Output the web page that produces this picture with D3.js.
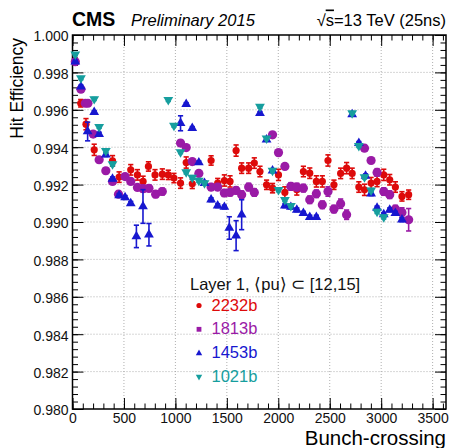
<!DOCTYPE html>
<html>
<head>
    <meta charset="utf-8">
    <title>Hit efficiency vs bunch crossing</title>
    <script src="https://d3js.org/d3.v7.min.js"></script>
    <style type="text/css">
        body { margin: 0; background: #fff; }
        text { font-family: "Liberation Sans", Arial, Helvetica, sans-serif; }
    </style>
</head>
<body>
<script type="text/javascript">
    // 2232b
    let bx2232 = [80, 131, 211, 389, 453, 566, 631, 686, 738, 802, 873, 931, 986, 1050, 1105, 1164,
        1347, 1411, 1476, 1531, 1590, 1644, 1712, 1767, 1822, 1886, 1944, 2002, 2064, 2180, 2244, 2306,
        2370, 2428, 2483, 2541, 2606, 2664, 2718, 2783, 2838, 2902, 2960, 3025, 3083, 3138, 3202, 3267];
    let eff2232 = [0.99635, 0.99523, 0.99386, 0.99327, 0.99240, 0.99279, 0.99252, 0.99217, 0.99297, 0.99252,
        0.99256, 0.99252, 0.99235, 0.99208, 0.99318, 0.99204, 0.99329, 0.99208, 0.99222, 0.99217, 0.99382,
        0.99288, 0.99288, 0.99315, 0.99270, 0.99199, 0.99181, 0.99252, 0.99158, 0.99172, 0.99270, 0.99261,
        0.99217, 0.99217, 0.99329, 0.99199, 0.99260, 0.99288, 0.99260, 0.99187, 0.99172, 0.99208, 0.99217,
        0.99252, 0.99226, 0.99187, 0.99137, 0.99146];
    let err2232 = [0.00020, 0.00030, 0.00030, 0.00028, 0.00028, 0.00028, 0.00028, 0.00028, 0.00025, 0.00028,
        0.00028, 0.00025, 0.00025, 0.00028, 0.00030, 0.00025, 0.00025, 0.00025, 0.00030, 0.00030, 0.00030,
        0.00028, 0.00028, 0.00028, 0.00028, 0.00025, 0.00025, 0.00030, 0.00030, 0.00028, 0.00028, 0.00028,
        0.00030, 0.00030, 0.00030, 0.00025, 0.00028, 0.00030, 0.00028, 0.00028, 0.00030, 0.00030, 0.00028,
        0.00030, 0.00028, 0.00028, 0.00025, 0.00025];

    // 1813b
    let bx1813 = [27, 82, 125, 150, 201, 259, 324, 389, 447, 511, 566, 631, 686, 743, 808, 873, 1050, 1105,
        1164, 1228, 1347, 1411, 1476, 1531, 1590, 1644, 1712, 1767, 1944, 2002, 2064, 2122, 2180, 2244,
        2306, 2370, 2428, 2483, 2541, 2606, 2664, 2838, 2902, 2960, 3025, 3083, 3138, 3202, 3267];
    let eff1813 = [0.99857, 0.99710, 0.99635, 0.99635, 0.99470, 0.99333, 0.99274, 0.99217, 0.99149, 0.99243,
        0.99217, 0.99185, 0.99178, 0.99180, 0.99149, 0.99163, 0.99422, 0.99398, 0.99323, 0.99260, 0.99187,
        0.99187, 0.99155, 0.99158, 0.99169, 0.99146, 0.99187, 0.99158, 0.99466, 0.99371, 0.99297, 0.99190,
        0.99187, 0.99181, 0.99119, 0.99151, 0.99092, 0.99163, 0.99069, 0.99098, 0.99039, 0.99395, 0.99329,
        0.99265, 0.99163, 0.99146, 0.99069, 0.99051, 0.99012];
    let err1813 = [0.00010, 0.00010, 0.00010, 0.00010, 0.00012, 0.00015, 0.00015, 0.00015, 0.00015, 0.00015,
        0.00015, 0.00015, 0.00018, 0.00018, 0.00018, 0.00018, 0.00015, 0.00015, 0.00015, 0.00015, 0.00018,
        0.00018, 0.00018, 0.00018, 0.00018, 0.00020, 0.00020, 0.00020, 0.00015, 0.00015, 0.00015, 0.00020,
        0.00020, 0.00020, 0.00020, 0.00020, 0.00020, 0.00025, 0.00020, 0.00025, 0.00025, 0.00015, 0.00015,
        0.00020, 0.00020, 0.00020, 0.00020, 0.00025, 0.00060];

    // 1453b
    let bx1453 = [27, 82, 147, 211, 259, 324, 389, 453, 511, 566, 621, 685, 743, 1050, 1105, 1164, 1228,
        1283, 1347, 1411, 1476, 1524, 1590, 1644, 1822, 1886, 1944, 2064, 2122, 2180, 2244, 2306, 2370,
        2718, 2783, 2848, 2902, 2960, 3025, 3083, 3138, 3202];
    let eff1453 = [0.99857, 0.99724, 0.99484, 0.99587, 0.99470, 0.99360, 0.99231, 0.99142, 0.99131, 0.99100,
        0.98923, 0.99083, 0.98932, 0.99528, 0.99630, 0.99502, 0.99318, 0.99208, 0.99119, 0.99087, 0.99080,
        0.98968, 0.98927, 0.99039, 0.99582, 0.99440, 0.99275, 0.99087, 0.99080, 0.99065, 0.99047, 0.99026,
        0.99026, 0.99575, 0.99422, 0.99247, 0.99151, 0.99075, 0.99040, 0.99065, 0.99047, 0.99012];
    let err1453 = [0.00008, 0.00008, 0.00050, 0.00008, 0.00010, 0.00010, 0.00010, 0.00010, 0.00010, 0.00010,
        0.00060, 0.00090, 0.00060, 0.00040, 0.00008, 0.00008, 0.00008, 0.00010, 0.00010, 0.00010, 0.00010,
        0.00060, 0.00080, 0.00080, 0.00008, 0.00008, 0.00010, 0.00010, 0.00010, 0.00010, 0.00010, 0.00010,
        0.00010, 0.00008, 0.00008, 0.00010, 0.00010, 0.00010, 0.00010, 0.00010, 0.00010, 0.00010];

    // 1021b
    let bx1021 = [27, 82, 211, 259, 324, 389, 931, 986, 1050, 1105, 1164, 1228, 1283, 1822, 1886, 1944,
        2002, 2064, 2122, 2718, 2783, 2838, 2902, 2960, 3025];
    let eff1021 = [0.99897, 0.99769, 0.99658, 0.99509, 0.99380, 0.99310, 0.99653, 0.99516, 0.99374, 0.99267,
        0.99238, 0.99222, 0.99208, 0.99617, 0.99448, 0.99275, 0.99172, 0.99119, 0.99087, 0.99582, 0.99407,
        0.99240, 0.99169, 0.99056, 0.99026];
    let err1021 = [0.00008, 0.00008, 0.00008, 0.00008, 0.00010, 0.00010, 0.00008, 0.00008, 0.00008, 0.00010,
        0.00010, 0.00010, 0.00010, 0.00008, 0.00008, 0.00010, 0.00010, 0.00010, 0.00010, 0.00008, 0.00008,
        0.00010, 0.00010, 0.00010, 0.00010];

    let seriesNames = ["2232b", "1813b", "1453b", "1021b"];
    let xTicks = [0, 500, 1000, 1500, 2000, 2500, 3000, 3500];
    let yTicks = [0.980, 0.982, 0.984, 0.986, 0.988, 0.990, 0.992, 0.994, 0.996, 0.998, 1.000];

    let series = [
        {name: seriesNames[0], bx: bx2232, eff: eff2232, err: err2232, color: "#dd0a0a", shape: "circle", size: 3.6, legShape: "circle"},
        {name: seriesNames[1], bx: bx1813, eff: eff1813, err: err1813, color: "#9a1aa6", shape: "circle", size: 4.6, legShape: "square"},
        {name: seriesNames[2], bx: bx1453, eff: eff1453, err: err1453, color: "#1717cf", shape: "up", size: 4, legShape: "up"},
        {name: seriesNames[3], bx: bx1021, eff: eff1021, err: err1021, color: "#169e9e", shape: "down", size: 4, legShape: "down"}
    ];

    let W = 450, H = 448;
    let pLeft = 72.5, pRight = 446, pTop = 35, pBottom = 409;

    let svg = d3.select("body").append("svg")
        .attr("width", W)
        .attr("height", H);

    let x = d3.scaleLinear().domain([0, 3630]).range([pLeft, pRight]);
    let y = d3.scaleLinear().domain([0.980, 1.000]).range([pBottom, pTop]);

    // grid
    let grid = svg.append("g").attr("class", "grid")
        .attr("stroke", "#9a9a9a").attr("stroke-width", 0.8).attr("stroke-dasharray", "1,2");
    grid.selectAll(".gx").data(xTicks.filter(d => d > 0))
        .enter().append("line")
        .attr("x1", d => x(d)).attr("x2", d => x(d))
        .attr("y1", pTop).attr("y2", pBottom);
    grid.selectAll(".gy").data(yTicks.filter(d => d > 0.9801 && d < 0.9999))
        .enter().append("line")
        .attr("x1", pLeft).attr("x2", pRight)
        .attr("y1", d => y(d)).attr("y2", d => y(d));

    // axes, ticks pointing inward like ROOT
    let xMinor = d3.range(0, 3601, 100);
    let yMinor = d3.range(0, 51).map(i => 0.980 + i * 0.0004);

    function tickAxis(axis, g) {
        g.call(axis);
        g.select(".domain").remove();
        g.selectAll("line").attr("stroke", "#000").attr("stroke-width", 1);
    }

    tickAxis(d3.axisBottom(x).tickValues(xMinor).tickSize(-5.5).tickFormat(""),
        svg.append("g").attr("transform", `translate(0,${pBottom})`));
    tickAxis(d3.axisTop(x).tickValues(xMinor).tickSize(-5.5).tickFormat(""),
        svg.append("g").attr("transform", `translate(0,${pTop})`));
    tickAxis(d3.axisLeft(y).tickValues(yMinor).tickSize(-5.5).tickFormat(""),
        svg.append("g").attr("transform", `translate(${pLeft},0)`));
    tickAxis(d3.axisRight(y).tickValues(yMinor).tickSize(-5.5).tickFormat(""),
        svg.append("g").attr("transform", `translate(${pRight},0)`));

    let xAxis = svg.append("g").attr("transform", `translate(0,${pBottom})`);
    tickAxis(d3.axisBottom(x).tickValues(xTicks).tickSize(-11).tickPadding(4.5).tickFormat(d3.format("d")), xAxis);
    tickAxis(d3.axisTop(x).tickValues(xTicks).tickSize(-11).tickFormat(""),
        svg.append("g").attr("transform", `translate(0,${pTop})`));
    let yAxis = svg.append("g").attr("transform", `translate(${pLeft},0)`);
    tickAxis(d3.axisLeft(y).tickValues(yTicks).tickSize(-11).tickPadding(4).tickFormat(d3.format(".3f")), yAxis);
    tickAxis(d3.axisRight(y).tickValues(yTicks).tickSize(-11).tickFormat(""),
        svg.append("g").attr("transform", `translate(${pRight},0)`));

    svg.selectAll(".tick text")
        .attr("font-family", "'Liberation Sans', Arial, sans-serif")
        .attr("font-size", 14)
        .attr("fill", "#111");
    yAxis.selectAll(".tick text").attr("dy", "0.42em");

    // frame
    svg.append("rect")
        .attr("x", pLeft).attr("y", pTop)
        .attr("width", pRight - pLeft).attr("height", pBottom - pTop)
        .attr("fill", "none").attr("stroke", "#000").attr("stroke-width", 1.5);

    function markerPath(shape, r) {
        if (shape === "circle") return d3.symbol(d3.symbolCircle, Math.PI * r * r)();
        if (shape === "square") return d3.symbol(d3.symbolSquare, 4 * r * r)();
        return d3.symbol(d3.symbolTriangle, 2.6 * r * r)();
    }

    // data
    series.forEach(s => {
        let pts = s.bx.map((b, i) => ({bx: b, eff: s.eff[i], err: s.err[i]}));
        let g = svg.append("g").attr("class", "series");
        g.selectAll(".eb").data(pts).enter().append("line")
            .attr("x1", d => x(d.bx)).attr("x2", d => x(d.bx))
            .attr("y1", d => y(d.eff - d.err)).attr("y2", d => y(d.eff + d.err))
            .attr("stroke", s.color).attr("stroke-width", 1.6);
        [-1, 1].forEach(sg => {
            g.selectAll(".cap" + sg).data(pts).enter().append("line")
                .attr("x1", d => x(d.bx) - 2.6).attr("x2", d => x(d.bx) + 2.6)
                .attr("y1", d => y(d.eff + sg * d.err)).attr("y2", d => y(d.eff + sg * d.err))
                .attr("stroke", s.color).attr("stroke-width", 1.6);
        });
        g.selectAll(".mk").data(pts).enter().append("path")
            .attr("d", markerPath(s.shape, s.size))
            .attr("transform", d => `translate(${x(d.bx)},${y(d.eff)})` + (s.shape === "down" ? " rotate(180)" : ""))
            .attr("fill", s.color);
    });

    // legend
    svg.append("text")
        .attr("x", 190).attr("y", 290)
        .attr("font-size", 16.5).attr("fill", "#111")
        .text("Layer 1, \u27E8pu\u27E9 \u2282 [12,15]");
    let legY = [310.5, 334.3, 358.3, 381.7];
    series.forEach((s, i) => {
        svg.append("path")
            .attr("d", markerPath(s.legShape, s.legShape === "square" ? 2.4 : 2.6))
            .attr("transform", `translate(199,${legY[i] - 5})` + (s.legShape === "down" ? " rotate(180)" : ""))
            .attr("fill", s.color);
        svg.append("text")
            .attr("x", 211.5).attr("y", legY[i])
            .attr("font-size", 16.5).attr("fill", s.color)
            .text(s.name);
    });

    // titles
    svg.append("text").attr("x", 72).attr("y", 25.5)
        .attr("font-size", 19.5).attr("font-weight", "bold").attr("fill", "#000").text("CMS");
    svg.append("text").attr("x", 131).attr("y", 25.5)
        .attr("font-size", 16.5).attr("font-style", "italic").attr("fill", "#000").text("Preliminary 2015");
    let sq = svg.append("text").attr("x", 446).attr("y", 25.5)
        .attr("font-size", 16.5).attr("text-anchor", "end").attr("fill", "#000");
    sq.append("tspan").text("\u221A");
    sq.append("tspan").attr("text-decoration", "overline").text("s");
    sq.append("tspan").text("=13 TeV (25ns)");

    svg.append("text")
        .attr("transform", "translate(23,38) rotate(-90)")
        .attr("text-anchor", "end")
        .attr("font-size", 17.5).attr("fill", "#000")
        .text("Hit Efficiency");
    svg.append("text")
        .attr("x", 446).attr("y", 445)
        .attr("text-anchor", "end")
        .attr("font-size", 20.5).attr("fill", "#000")
        .text("Bunch-crossing");
</script>
</body>
</html>
